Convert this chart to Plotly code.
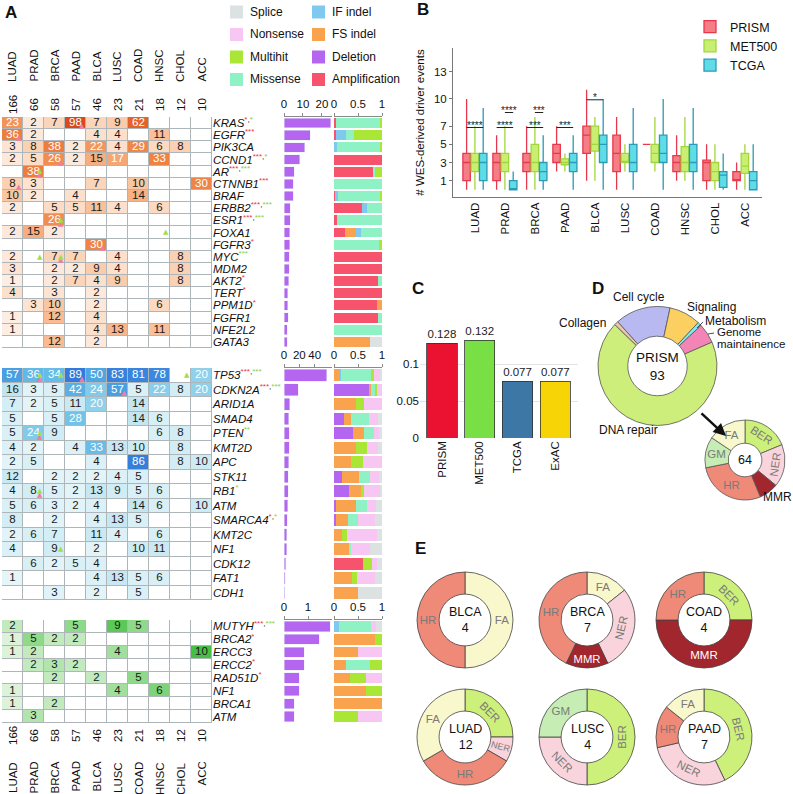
import plotly.graph_objects as go

W, H = 793, 794
FONT = "Liberation Sans, Arial, sans-serif"
FS = 11.5

# ---------------- Panel A data ----------------
cancers = ["LUAD", "PRAD", "BRCA", "PAAD", "BLCA", "LUSC", "COAD", "HNSC", "CHOL", "ACC"]
patients = [166, 66, 58, 57, 46, 23, 21, 18, 12, 10]

# % of patients altered per cancer type (0 = none)
onc_genes = ["KRAS", "EGFR", "PIK3CA", "CCND1", "AR", "CTNNB1", "BRAF", "ERBB2", "ESR1", "FOXA1",
             "FGFR3", "MYC", "MDM2", "AKT2", "TERT", "PPM1D", "FGFR1", "NFE2L2", "GATA3"]
onc_pct = [
    [23, 2, 7, 98, 7, 9, 62, 0, 0, 0],
    [36, 2, 0, 0, 4, 4, 0, 11, 0, 0],
    [3, 8, 38, 2, 22, 4, 29, 6, 8, 0],
    [2, 5, 26, 2, 15, 17, 0, 33, 0, 0],
    [0, 38, 0, 0, 0, 0, 0, 0, 0, 0],
    [8, 3, 0, 0, 7, 0, 10, 0, 0, 30],
    [10, 2, 0, 4, 0, 0, 14, 0, 0, 0],
    [2, 0, 5, 5, 11, 4, 0, 6, 0, 0],
    [0, 0, 26, 0, 0, 0, 0, 0, 0, 0],
    [2, 15, 2, 0, 0, 0, 0, 0, 0, 0],
    [0, 0, 0, 0, 30, 0, 0, 0, 0, 0],
    [2, 0, 7, 7, 0, 4, 0, 0, 8, 0],
    [3, 0, 2, 2, 9, 4, 0, 0, 8, 0],
    [1, 0, 2, 7, 4, 9, 0, 0, 8, 0],
    [4, 0, 3, 0, 2, 0, 0, 0, 0, 0],
    [0, 3, 10, 0, 2, 0, 0, 6, 0, 0],
    [1, 0, 12, 0, 4, 0, 0, 0, 0, 0],
    [1, 0, 0, 0, 4, 13, 0, 11, 0, 0],
    [0, 0, 12, 0, 2, 0, 0, 0, 0, 0],
]
onc_freq = [24.7, 13.8, 11.0, 8.3, 5.3, 4.9, 4.8, 3.4, 3.2, 3.0, 2.9, 2.8, 2.8, 2.5, 1.9, 2.1, 2.2, 1.8, 1.7]

tsg_genes = ["TP53", "CDKN2A", "ARID1A", "SMAD4", "PTEN", "KMT2D", "APC", "STK11", "RB1", "ATM",
             "SMARCA4", "KMT2C", "NF1", "CDK12", "FAT1", "CDH1"]
tsg_pct = [
    [57, 36, 34, 89, 50, 83, 81, 78, 0, 20],
    [16, 3, 5, 42, 24, 57, 5, 22, 8, 20],
    [7, 2, 5, 11, 20, 0, 14, 0, 0, 0],
    [5, 0, 5, 28, 0, 0, 14, 6, 0, 0],
    [5, 24, 9, 0, 0, 0, 0, 6, 8, 0],
    [4, 2, 0, 4, 33, 13, 10, 0, 8, 0],
    [2, 5, 0, 0, 4, 0, 86, 0, 8, 10],
    [12, 0, 2, 2, 2, 4, 5, 0, 0, 0],
    [4, 8, 5, 2, 13, 9, 5, 6, 0, 0],
    [5, 6, 3, 2, 4, 0, 14, 6, 0, 10],
    [8, 0, 2, 0, 4, 13, 5, 0, 0, 0],
    [2, 6, 7, 0, 11, 4, 0, 6, 0, 0],
    [4, 0, 9, 0, 2, 0, 10, 11, 0, 0],
    [0, 6, 2, 5, 4, 0, 0, 0, 0, 0],
    [1, 0, 0, 0, 4, 13, 5, 6, 0, 0],
    [0, 0, 3, 0, 2, 0, 5, 0, 0, 0],
]
tsg_freq = [56, 18.5, 7.2, 6.5, 6.6, 6.6, 6.0, 5.3, 5.5, 4.6, 4.3, 3.9, 3.5, 2.1, 1.8, 0.8]

dna_genes = ["MUTYH", "BRCA2", "ERCC3", "ERCC2", "RAD51D", "NF1", "BRCA1", "ATM"]
dna_pct = [
    [2, 0, 0, 5, 0, 9, 5, 0, 0, 0],
    [1, 5, 2, 2, 0, 0, 0, 0, 0, 0],
    [1, 2, 0, 0, 0, 4, 0, 0, 0, 10],
    [0, 2, 3, 2, 0, 0, 0, 0, 0, 0],
    [0, 0, 2, 0, 2, 0, 5, 0, 0, 0],
    [1, 0, 0, 0, 0, 4, 0, 6, 0, 0],
    [1, 0, 2, 0, 0, 0, 0, 0, 0, 0],
    [0, 3, 0, 0, 0, 0, 0, 0, 0, 0],
]
dna_freq = [1.92, 1.46, 0.84, 0.84, 0.63, 0.63, 0.42, 0.42]

# small triangles in cells (pink / green flags)
onc_pink = [("KRAS", "PAAD"), ("EGFR", "LUAD"), ("CCND1", "BRCA"), ("AR", "PRAD"), ("CTNNB1", "LUAD"),
            ("ESR1", "BRCA"), ("FGFR3", "BLCA"), ("MYC", "BRCA")]
onc_green = [("AR", "PRAD"), ("ESR1", "BRCA"), ("FOXA1", "HNSC"), ("MYC", "PRAD"), ("MYC", "BRCA")]
tsg_pink = [("TP53", "PRAD"), ("TP53", "PAAD"), ("CDKN2A", "LUSC"), ("PTEN", "PRAD"), ("RB1", "PRAD")]
tsg_green = [("TP53", "PRAD"), ("TP53", "BRCA"), ("TP53", "CHOL"), ("PTEN", "PRAD"), ("RB1", "PRAD"),
             ("NF1", "BRCA")]
dna_pink = []
dna_green = []

# mutation type proportions, columns follow mut_types
mut_types = ["Amplification", "Deletion", "FS indel", "IF indel", "Missense", "Multihit", "Nonsense", "Splice"]
mut_colors = ["#f7536c", "#b566f0", "#f9a34e", "#7fc9ee", "#8ef2c4", "#a9e635", "#f7c6f3", "#dce1e2"]

onc_prop = [
    [0.05, 0, 0, 0, 0.92, 0.03, 0, 0],
    [0.05, 0, 0, 0.19, 0.18, 0.58, 0, 0],
    [0, 0, 0, 0.06, 0.89, 0.05, 0, 0],
    [1, 0, 0, 0, 0, 0, 0, 0],
    [0.81, 0, 0, 0, 0.05, 0.14, 0, 0],
    [0, 0, 0, 0, 1, 0, 0, 0],
    [0.03, 0, 0, 0.05, 0.88, 0.04, 0, 0],
    [0.58, 0, 0, 0.1, 0.32, 0, 0, 0],
    [0.06, 0, 0, 0, 0.94, 0, 0, 0],
    [0.22, 0, 0.23, 0.11, 0.44, 0, 0, 0],
    [0, 0, 0, 0, 0.94, 0.06, 0, 0],
    [1, 0, 0, 0, 0, 0, 0, 0],
    [1, 0, 0, 0, 0, 0, 0, 0],
    [0.92, 0, 0, 0, 0.08, 0, 0, 0],
    [1, 0, 0, 0, 0, 0, 0, 0],
    [0.9, 0, 0.1, 0, 0, 0, 0, 0],
    [0.92, 0, 0, 0, 0.08, 0, 0, 0],
    [0, 0, 0, 0, 1, 0, 0, 0],
    [0, 0, 0.76, 0, 0, 0, 0, 0.24],
]
tsg_prop = [
    [0, 0, 0.13, 0.02, 0.63, 0.05, 0.12, 0.05],
    [0, 0.72, 0.05, 0, 0.09, 0.04, 0.1, 0],
    [0, 0, 0.45, 0, 0, 0.17, 0.38, 0],
    [0, 0.2, 0.15, 0, 0.37, 0, 0.2, 0.08],
    [0, 0.4, 0.22, 0, 0.21, 0, 0.11, 0.06],
    [0, 0, 0.45, 0, 0, 0.23, 0.24, 0.08],
    [0, 0, 0.36, 0, 0, 0.24, 0.4, 0],
    [0, 0.16, 0.36, 0, 0.24, 0, 0.18, 0.06],
    [0, 0.32, 0.25, 0, 0, 0.05, 0.33, 0.05],
    [0, 0.05, 0.4, 0, 0.23, 0, 0.2, 0.12],
    [0, 0.05, 0.25, 0, 0.2, 0, 0.35, 0.15],
    [0, 0, 0.16, 0, 0, 0.11, 0.63, 0.1],
    [0, 0, 0.32, 0, 0.04, 0, 0.39, 0.25],
    [0.6, 0, 0, 0, 0, 0.2, 0.1, 0.1],
    [0, 0, 0.37, 0, 0, 0.11, 0.38, 0.14],
    [0, 0, 0.5, 0, 0, 0, 0, 0.5],
]
dna_prop = [
    [0, 0, 0, 0.1, 0.67, 0, 0.1, 0.13],
    [0, 0, 0.86, 0, 0, 0.14, 0, 0],
    [0, 0, 0.5, 0, 0, 0, 0.5, 0],
    [0, 0, 0.25, 0, 0.5, 0.25, 0, 0],
    [0, 0, 0.33, 0, 0, 0.33, 0.34, 0],
    [0, 0, 0.67, 0, 0, 0.33, 0, 0],
    [0, 0, 1, 0, 0, 0, 0, 0],
    [0, 0, 0, 0, 0, 0.5, 0.5, 0],
]

# significance marks next to gene names (red, green)
onc_stars = {"KRAS": ("*", "*"), "EGFR": ("***", ""), "CCND1": ("***", "*"), "AR": ("***", "***"),
             "CTNNB1": ("***", ""), "ERBB2": ("***", "***"), "ESR1": ("***", "***"), "FGFR3": ("*", ""),
             "MYC": ("", "***"), "AKT2": ("*", ""), "TERT": ("*", ""), "PPM1D": ("*", "")}
tsg_stars = {"TP53": ("***", "***"), "CDKN2A": ("***", "***"), "PTEN": ("", "**"), "RB1": ("", "*"),
             "SMARCA4": ("*", "*")}
dna_stars = {"MUTYH": ("***", "***"), "BRCA2": ("*", ""), "ERCC2": ("*", ""), "RAD51D": ("*", "")}

# ---------------- Panel B data ----------------
cohorts = ["PRISM", "MET500", "TCGA"]
box_low = {"PRISM": [0, 0, 0, 2, 1, 0, 5, 1, 0, 0],
           "MET500": [0, 0, 0, 2, 1, 2, 2, 1, 0, 0],
           "TCGA": [0, 0, 0, 0, 0, 0, 0, 0, 0, 0]}
box_q1 = {"PRISM": [1, 1, 2, 3, 4, 2, 5, 2, 1, 1],
          "MET500": [2, 2, 2, 2.75, 4.25, 3, 3, 2, 1, 1.8],
          "TCGA": [1, 0, 1, 2, 3, 2, 3, 2, 0.25, 0]}
box_med = {"PRISM": [3, 3, 3, 4, 6, 4, 5, 3, 3, 1],
           "MET500": [3, 3, 3, 3, 5, 3, 4, 3, 2, 2.6],
           "TCGA": [3, 0, 2, 3, 5, 3, 4, 3, 1.6, 1]}
box_q3 = {"PRISM": [4, 4, 4, 5, 7, 6, 5, 3.75, 3.25, 2],
          "MET500": [4, 4, 5, 3.4, 7, 4, 5, 4.75, 3, 4],
          "TCGA": [4, 1, 3, 4, 6, 5, 6, 5, 2, 2]}
box_high = {"PRISM": [10, 6, 7, 7, 11, 8, 5, 6, 5, 3],
            "MET500": [7, 7, 8, 4, 8, 5, 8, 8, 5, 5],
            "TCGA": [9, 2, 6, 6, 10, 9, 10, 9, 4, 5]}
box_fill = {"PRISM": "#f57d86", "MET500": "#c9ef72", "TCGA": "#5fdde6"}
box_line = {"PRISM": "#e8384d", "MET500": "#a2d63c", "TCGA": "#2a9ab6"}
# (cancer index, cohort a, cohort b, height, label)
sig_marks = [(0, 0, 2, 6.85, "****"), (1, 1, 2, 8.5, "****"), (1, 0, 2, 6.85, "****"),
             (2, 1, 2, 8.5, "***"), (2, 0, 2, 6.85, "***"), (3, 0, 2, 6.85, "***"),
             (4, 0, 2, 9.9, "*")]

# ---------------- Panel C data ----------------
sources = ["PRISM", "MET500", "TCGA", "ExAC"]
germline_frac = [0.128, 0.132, 0.077, 0.077]
source_colors = ["#ea1230", "#78df45", "#3c77a6", "#f7d406"]

# ---------------- Panel D / E data ----------------
pathways = ["Cell cycle", "Signaling", "Metabolism", "Genome maintainence", "DNA repair", "Collagen"]
pathway_counts = [14, 8, 1, 5, 64, 1]
pathway_colors = ["#b9b9f2", "#fcd060", "#7fe9f2", "#f285b5", "#cdee7a", "#e9c9a9"]

repair_colors = {"HR": "#f08a78", "FA": "#f8f8cc", "NER": "#f9d4dc", "MMR": "#a1262d",
                 "BER": "#ccf07a", "GM": "#c6eeb4"}
dna_repair_types = ["BER", "NER", "MMR", "HR", "GM", "FA"]
dna_repair_counts = [12, 11, 5, 18, 8, 10]

e_names = ["BLCA", "BRCA", "COAD", "LUAD", "LUSC", "PAAD"]
e_totals = [4, 7, 4, 12, 4, 7]
e_types = [["FA", "HR"], ["FA", "NER", "MMR", "HR"], ["BER", "MMR", "HR"],
           ["BER", "NER", "HR", "FA"], ["BER", "NER", "GM"], ["BER", "NER", "HR", "FA"]]
e_counts = [[2, 2], [1, 2, 1, 3], [1, 2, 1], [3, 1, 4, 4], [2, 1, 1], [3, 2, 1, 1]]


def dx(a, b):
    return [a / W, b / W]


def dy(top, bottom):
    return [1 - bottom / H, 1 - top / H]


def ref(n):
    return "" if n == 1 else str(n)


def note(x, y, text, size=FS, xanchor="center", yanchor="middle", **kw):
    # text placed in pixel coordinates of the page
    return dict(xref="paper", yref="paper", x=x / W, y=1 - y / H, text=text, showarrow=False,
                xanchor=xanchor, yanchor=yanchor, font=dict(size=size, color="#111"), **kw)


def gene_label(g, stars):
    red, green = stars.get(g, ("", ""))
    s = f"<i>{g}</i>"
    parts = []
    if red:
        parts.append(f"<span style='color:#e8344a'>{red}</span>")
    if green:
        parts.append(f"<span style='color:#86cf48'>{green}</span>")
    if parts:
        s += "<sup>" + ",".join(parts) + "</sup>"
    return s


onc_scale = [[0, "#ffffff"], [0.009, "#ffffff"], [0.01, "#fdeee3"], [0.03, "#fde4d2"], [0.08, "#fbd1b4"],
             [0.13, "#f7b68b"], [0.2, "#f29b63"], [0.3, "#ee8546"], [0.6, "#e6642a"], [1, "#d9461a"]]
tsg_scale = [[0, "#ffffff"], [0.009, "#ffffff"], [0.01, "#e6f5f9"], [0.05, "#d9f0f6"], [0.16, "#c0e4f0"],
             [0.2, "#8fd0ea"], [0.3, "#6cc0e8"], [0.5, "#4ea6e2"], [0.8, "#3a86de"], [1, "#2c6cd8"]]
dna_scale = [[0, "#ffffff"], [0.09, "#ffffff"], [0.1, "#dcf3d9"], [0.2, "#c2eabe"], [0.3, "#b2e5ad"],
             [0.5, "#8ed98a"], [0.6, "#7ed27a"], [0.9, "#5cc858"], [1, "#46bf44"]]

blocks = [
    (onc_genes, onc_pct, onc_freq, onc_prop, onc_stars, onc_pink, onc_green, onc_scale, 100,
     117, 348, 25.3, [0, 10, 20], 17),
    (tsg_genes, tsg_pct, tsg_freq, tsg_prop, tsg_stars, tsg_pink, tsg_green, tsg_scale, 100,
     368, 600, 62.7, [0, 20, 40], 20),
    (dna_genes, dna_pct, dna_freq, dna_prop, dna_stars, dna_pink, dna_green, dna_scale, 10,
     620, 723, 2.0, [0, 1], 999),
]

fig = go.Figure()
axes = {}
GRID = "#aeb6ba"
AXC = "#8a8a8a"

for b, (genes, pct, freq, prop, stars, pink, green, scale, zmax, top, bottom, fmax, fticks,
        white_at) in enumerate(blocks):
    n = 3 * b + 1
    ng = len(genes)
    xa, ya = "x" + ref(n), "y" + ref(n)
    # grid underlay
    fig.add_trace(go.Heatmap(x=cancers, y=genes, z=[[1] * len(cancers) for _ in genes],
                             colorscale=[[0, GRID], [1, GRID]], showscale=False, hoverinfo="skip",
                             xaxis=xa, yaxis=ya))
    fig.add_trace(go.Heatmap(x=cancers, y=genes, z=pct, zmin=0, zmax=zmax, colorscale=scale,
                             xgap=1, ygap=1, showscale=False, xaxis=xa, yaxis=ya))
    cx, cy, ct, cc = [], [], [], []
    for g, row in zip(genes, pct):
        for c, v in zip(cancers, row):
            if not v:
                continue
            cx.append(c)
            cy.append(g)
            ct.append(str(v))
            cc.append("#ffffff" if v >= white_at else "#1a1a1a")
    fig.add_trace(go.Scatter(x=cx, y=cy, text=ct, mode="text", hoverinfo="skip", showlegend=False,
                             textfont=dict(color=cc, size=FS, family=FONT), xaxis=xa, yaxis=ya))
    for flags, col, pos in ((pink, "#f27aa6", "bottom right"), (green, "#9fe04a", "middle right")):
        if flags:
            fig.add_trace(go.Scatter(x=[c for g, c in flags], y=[g for g, c in flags],
                                     text=["\u2002\u25b2"] * len(flags),
                                     mode="text", textposition=pos, hoverinfo="skip", showlegend=False,
                                     textfont=dict(color=col, size=7, family="DejaVu Sans"), xaxis=xa, yaxis=ya))
    axes["xaxis" + ref(n)] = dict(domain=dx(2, 212), anchor=ya, type="category", categoryarray=cancers,
                                  range=[-0.5, len(cancers) - 0.5], showticklabels=False, showgrid=False,
                                  zeroline=False, ticks="", automargin=False)
    axes["yaxis" + ref(n)] = dict(domain=dy(top, bottom), anchor=xa, side="right", type="category",
                                  categoryarray=genes, range=[ng - 0.5, -0.5], tickvals=genes,
                                  ticktext=[gene_label(g, stars) for g in genes], ticks="",
                                  tickfont=dict(size=FS, color="#111"), showgrid=False, zeroline=False,
                                  automargin=False)

    # frequency bars
    xa2, ya2 = "x" + ref(n + 1), "y" + ref(n + 1)
    fig.add_trace(go.Bar(x=freq, y=genes, orientation="h", marker_color="#b566f0", width=0.8,
                         showlegend=False, xaxis=xa2, yaxis=ya2))
    axes["xaxis" + ref(n + 1)] = dict(domain=dx(284, 332), anchor=ya2, side="top", range=[0, fmax],
                                      tickvals=fticks, tickangle=0, ticks="outside", ticklen=3, tickcolor=AXC,
                                      showline=True, linecolor=AXC, showgrid=False, zeroline=False,
                                      tickfont=dict(size=FS), automargin=False)
    axes["yaxis" + ref(n + 1)] = dict(domain=dy(top, bottom), anchor=xa2, type="category",
                                      categoryarray=genes, range=[ng - 0.5, -0.5], visible=False,
                                      automargin=False)

    # mutation type proportions
    xa3, ya3 = "x" + ref(n + 2), "y" + ref(n + 2)
    for k, (t, col) in enumerate(zip(mut_types, mut_colors)):
        fig.add_trace(go.Bar(x=[row[k] for row in prop], y=genes, orientation="h", marker_color=col,
                             marker_line_width=0, width=0.82, name=t, showlegend=False,
                             xaxis=xa3, yaxis=ya3))
    axes["xaxis" + ref(n + 2)] = dict(domain=dx(334, 382), anchor=ya3, side="top", range=[0, 1],
                                      tickvals=[0, 0.5, 1], ticktext=["0", "0.5", "1"], tickangle=0,
                                      ticks="outside", ticklen=3, tickcolor=AXC, showline=True, linecolor=AXC,
                                      showgrid=False, zeroline=False, tickfont=dict(size=FS),
                                      automargin=False)
    axes["yaxis" + ref(n + 2)] = dict(domain=dy(top, bottom), anchor=xa3, type="category",
                                      categoryarray=genes, range=[ng - 0.5, -0.5], visible=False,
                                      automargin=False)

# ---------------- Panel B ----------------
for s in cohorts:
    fig.add_trace(go.Box(name=s, x=cancers, q1=box_q1[s], median=box_med[s], q3=box_q3[s],
                         lowerfence=box_low[s], upperfence=box_high[s], fillcolor=box_fill[s],
                         line=dict(color=box_line[s], width=1.3), whiskerwidth=0, offsetgroup=s,
                         boxpoints=False, xaxis="x10", yaxis="y10", legend="legend2", hoverinfo="skip"))
axes["xaxis10"] = dict(domain=dx(453, 762), anchor="y10", type="category", categoryarray=cancers,
                       range=[-0.73, 9.57], tickangle=-90, showline=True, linecolor="#777", ticks="",
                       showgrid=False, zeroline=False, tickfont=dict(size=FS), automargin=False)
axes["yaxis10"] = dict(domain=dy(48, 197), anchor="x10", range=[-0.8, 15.6], tickvals=[1, 3, 5, 7, 10, 13],
                       ticks="outside", ticklen=3, tickcolor="#777", showline=True, linecolor="#777",
                       showgrid=False, zeroline=False, tickfont=dict(size=FS), automargin=False,
                       title=dict(text="# WES-derived driver events", font=dict(size=FS), standoff=6))

slot = (1 - 0.17) / 3
shapes = []
annotations = []
for ci, a, bb, yv, lab in sig_marks:
    x0 = ci + (a - 1) * slot
    x1 = ci + (bb - 1) * slot
    shapes.append(dict(type="line", xref="x10", yref="y10", x0=x0, x1=x1, y0=yv, y1=yv,
                       line=dict(color="#222", width=1)))
    annotations.append(dict(xref="x10", yref="y10", x=(x0 + x1) / 2, y=yv, text=lab, showarrow=False,
                            xanchor="center", yanchor="bottom", yshift=-5, font=dict(size=10, color="#222")))

# ---------------- Panel C ----------------
fig.add_trace(go.Bar(x=sources, y=germline_frac, marker=dict(color=source_colors, line=dict(color="#333", width=0.8)),
                     width=0.8, texttemplate="%{y:.3f}", textposition="outside", cliponaxis=False,
                     textfont=dict(size=FS, color="#222"), showlegend=False, xaxis="x11", yaxis="y11"))
axes["xaxis11"] = dict(domain=dx(420, 578), anchor="y11", type="category", categoryarray=sources,
                       range=[-0.58, 3.6], tickangle=-90, ticks="", showline=False, showgrid=False,
                       zeroline=False, tickfont=dict(size=FS), automargin=False)
axes["yaxis11"] = dict(domain=dy(327, 438), anchor="x11", range=[0, 0.15], tickvals=[0, 0.05, 0.1],
                       ticktext=["0", "0.05", "0.1"], ticks="", showline=False, showgrid=True,
                       gridcolor="#e4e4e4", zeroline=False, tickfont=dict(size=FS), automargin=False)

# ---------------- Panel D ----------------
fig.add_trace(go.Pie(labels=pathways, values=pathway_counts, hole=0.5, sort=False, direction="clockwise",
                     rotation=-42, marker=dict(colors=pathway_colors, line=dict(color="#555", width=0.8)),
                     textinfo="none", hoverinfo="skip", showlegend=False,
                     domain=dict(x=dx(598, 717), y=dy(306.5, 425.5))))
fig.add_trace(go.Pie(labels=dna_repair_types, values=dna_repair_counts, hole=0.42, sort=False,
                     direction="clockwise", rotation=0,
                     marker=dict(colors=[repair_colors[t] for t in dna_repair_types], line=dict(color="#555", width=0.8)),
                     texttemplate=["%{label}" if t != "MMR" else "" for t in dna_repair_types],
                     textposition="inside", insidetextorientation="auto",
                     textfont=dict(size=FS, color="#7a7a7a", family=FONT), hoverinfo="skip", showlegend=False,
                     domain=dict(x=dx(705, 785), y=dy(420, 500))))

# ---------------- Panel E ----------------
e_centers = [(465, 620), (587, 620), (704, 620), (465, 737), (587, 737), (704, 737)]
R = 48
for name, tot, types, vals, (cxp, cyp) in zip(e_names, e_totals, e_types, e_counts, e_centers):
    fig.add_trace(go.Pie(labels=types, values=vals, hole=0.54, sort=False, direction="clockwise", rotation=0,
                         marker=dict(colors=[repair_colors[t] for t in types], line=dict(color="#444", width=0.8)),
                         textinfo="label", textposition="inside", insidetextorientation="auto",
                         textfont=dict(size=FS, family=FONT, color=["#ffffff" if t == "MMR" else "#7a7a7a" for t in types]),
                         hoverinfo="skip", showlegend=False,
                         domain=dict(x=dx(cxp - R, cxp + R), y=dy(cyp - R, cyp + R))))
    annotations.append(note(cxp, cyp, f"{name}<br>{tot}", size=12.5))

# ---------------- text annotations ----------------
for i, (c, npat) in enumerate(zip(cancers, patients)):
    common = dict(xref="x", x=i, yref="paper", textangle=-90, showarrow=False, xanchor="center",
                  font=dict(size=FS, color="#111"))
    annotations.append(dict(common, y=1 - 84 / H, text=c, yanchor="bottom"))
    annotations.append(dict(common, y=1 - 104.5 / H, text=str(npat), yanchor="middle"))
    annotations.append(dict(common, xref="x7", y=1 - 735.5 / H, text=str(npat), yanchor="middle"))
    annotations.append(dict(common, xref="x7", y=1 - 760 / H, text=c, yanchor="top"))

# mutation type key
key_cols = [["Splice", "Nonsense", "Multihit", "Missense"], ["IF indel", "FS indel", "Deletion", "Amplification"]]
key_x = [230, 312]
for col_types, x0 in zip(key_cols, key_x):
    for r, t in enumerate(col_types):
        yc = 12 + r * 22.5
        shapes.append(dict(type="rect", xref="paper", yref="paper", x0=x0 / W, x1=(x0 + 13) / W,
                           y0=1 - (yc + 6.5) / H, y1=1 - (yc - 6.5) / H,
                           fillcolor=mut_colors[mut_types.index(t)], line=dict(width=0)))
        annotations.append(note(x0 + 18, yc, t, size=12, xanchor="left"))

# panel letters
for lab, (lx, ly) in {"A": (3, 12), "B": (415, 10), "C": (410, 289), "D": (590, 289), "E": (413, 548)}.items():
    annotations.append(note(lx, ly, f"<b>{lab}</b>", size=17, xanchor="left"))

# panel D labels
d_labels = [("Cell cycle", 639, 297, "center", 12), ("Signaling", 685, 307, "left", 12),
            ("Collagen", 608, 323, "right", 12), ("Metabolism", 703, 321, "left", 12),
            ("Genome", 715, 332, "left", 11.5), ("maintainence", 715, 344, "left", 11.5),
            ("DNA repair", 597, 430, "left", 12)]
for t, lx, ly, anc, sz in d_labels:
    annotations.append(note(lx, ly, t, size=sz, xanchor=anc))
shapes.append(dict(type="line", xref="paper", yref="paper", x0=697 / W, y0=1 - 328 / H, x1=703 / W, y1=1 - 322 / H,
                   line=dict(color="#222", width=0.8)))
shapes.append(dict(type="line", xref="paper", yref="paper", x0=708 / W, y0=1 - 334 / H, x1=714 / W, y1=1 - 333 / H,
                   line=dict(color="#222", width=0.8)))
annotations.append(note(657.5, 366, "PRISM<br>93", size=13.5))
annotations.append(note(745, 460, "64", size=12.5))
annotations.append(note(777, 497, "MMR", size=12))
annotations.append(dict(xref="paper", yref="paper", x=726 / W, y=1 - 436 / H, ax=-26, ay=-24, text="",
                        showarrow=True, arrowhead=2, arrowsize=1, arrowwidth=2.5, arrowcolor="#111"))

fig.update_layout(
    width=W, height=H, margin=dict(l=0, r=0, t=0, b=0),
    paper_bgcolor="white", plot_bgcolor="white",
    font=dict(family=FONT, size=FS, color="#111"),
    barmode="stack", bargap=0.15,
    boxmode="group", boxgap=0.17, boxgroupgap=0.1,
    showlegend=True,
    legend2=dict(x=690 / W, y=1 - 12 / H, xanchor="left", yanchor="top", font=dict(size=12.5),
                 bgcolor="rgba(0,0,0,0)", tracegroupgap=0, itemwidth=30),
    shapes=shapes, annotations=annotations,
    **axes,
)

fig.write_html("out.html", config={"displayModeBar": False},
               post_script="document.body.style.margin='0';document.body.style.padding='0';"
                           "document.body.style.overflow='hidden';")
